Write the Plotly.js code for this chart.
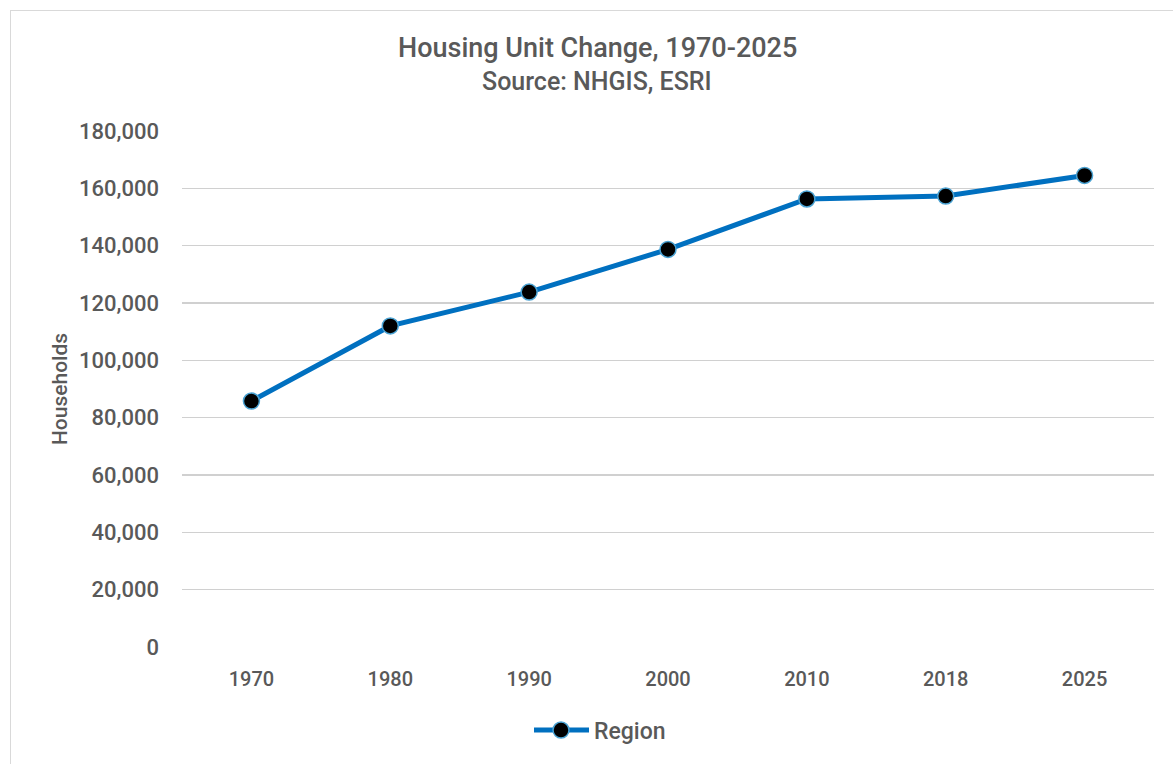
<!DOCTYPE html>
<html><head><meta charset="utf-8">
<script src="https://cdn.plot.ly/plotly-3.0.1.min.js"></script>
<style>
html,body{margin:0;padding:0;background:#fff;}
#frame{position:absolute;left:10px;top:10px;width:1200px;height:800px;border:1px solid #d9d9d9;box-sizing:border-box;}
#chart{position:absolute;left:0;top:0;width:1173px;height:764px;}
</style></head>
<body>
<div id="frame"></div>
<div id="chart"></div>
<script>
const years = ['1970','1980','1990','2000','2010','2018','2025'];
const households = [85800, 112000, 123800, 138700, 156300, 157300, 164500];
const yTicks = [0,20000,40000,60000,80000,100000,120000,140000,160000,180000];
const titleLine1 = 'Housing Unit Change, 1970-2025';
const titleLine2 = 'Source: NHGIS, ESRI';

const font = "Roboto, 'DejaVu Sans', sans-serif";
const grey = '#595959';

Plotly.newPlot('chart', [{
  x: years, y: households, type: 'scatter', mode: 'lines+markers', name: 'Region',
  line: {color: '#0070C0', width: 5},
  marker: {color: '#000000', size: 16, line: {color: '#4BA3D3', width: 1.5}}
}], {
  width: 1173, height: 764,
  paper_bgcolor: 'rgba(0,0,0,0)', plot_bgcolor: 'rgba(0,0,0,0)',
  margin: {l: 182, r: 19, t: 131, b: 117},
  font: {family: font, color: grey, size: 20, weight: 500},
  annotations: [
    {text: titleLine1, xref: 'paper', yref: 'paper', x: 0.427, y: 1.1609, xanchor: 'center', yanchor: 'middle',
     showarrow: false, font: {size: 27, color: grey, family: font, weight: 500}},
    {text: titleLine2, xref: 'paper', yref: 'paper', x: 0.427, y: 1.095, xanchor: 'center', yanchor: 'middle',
     showarrow: false, font: {size: 25, color: grey, family: font, weight: 500}}
  ],
  xaxis: {type: 'category', range: [-0.5, 6.5], showgrid: false, zeroline: false, showline: false, automargin: false,
          ticks: '', ticklabelstandoff: 18, tickfont: {size: 20, color: grey, weight: 500}, fixedrange: true},
  yaxis: {range: [0, 180000], tickvals: yTicks, tickformat: ',d', showgrid: true, gridcolor: '#d0d0d0', gridwidth: 1.3,
          zeroline: false, showline: false, ticks: '', ticklabelstandoff: 22, automargin: false,
          tickfont: {size: 22, color: grey, weight: 500},
          title: {text: 'Households', font: {size: 21, color: grey, weight: 500}, standoff: 5}},
  showlegend: true,
  legend: {orientation: 'h', x: 0.357, xanchor: 'left', yref: 'container', y: 0.0725, yanchor: 'top', itemwidth: 55,
           font: {size: 23, color: grey, weight: 500}}
}, {displayModeBar: false, staticPlot: true}).then(function(gd){
  // stretch the legend sample line to match the reference's longer swatch
  gd.querySelectorAll('.legend .legendlines path').forEach(function(p){ p.setAttribute('d', 'M5,0h55'); });
  gd.querySelectorAll('.legend .legendpoints path').forEach(function(p){ p.setAttribute('transform', 'translate(32,0)'); });
});
</script>
</body></html>
